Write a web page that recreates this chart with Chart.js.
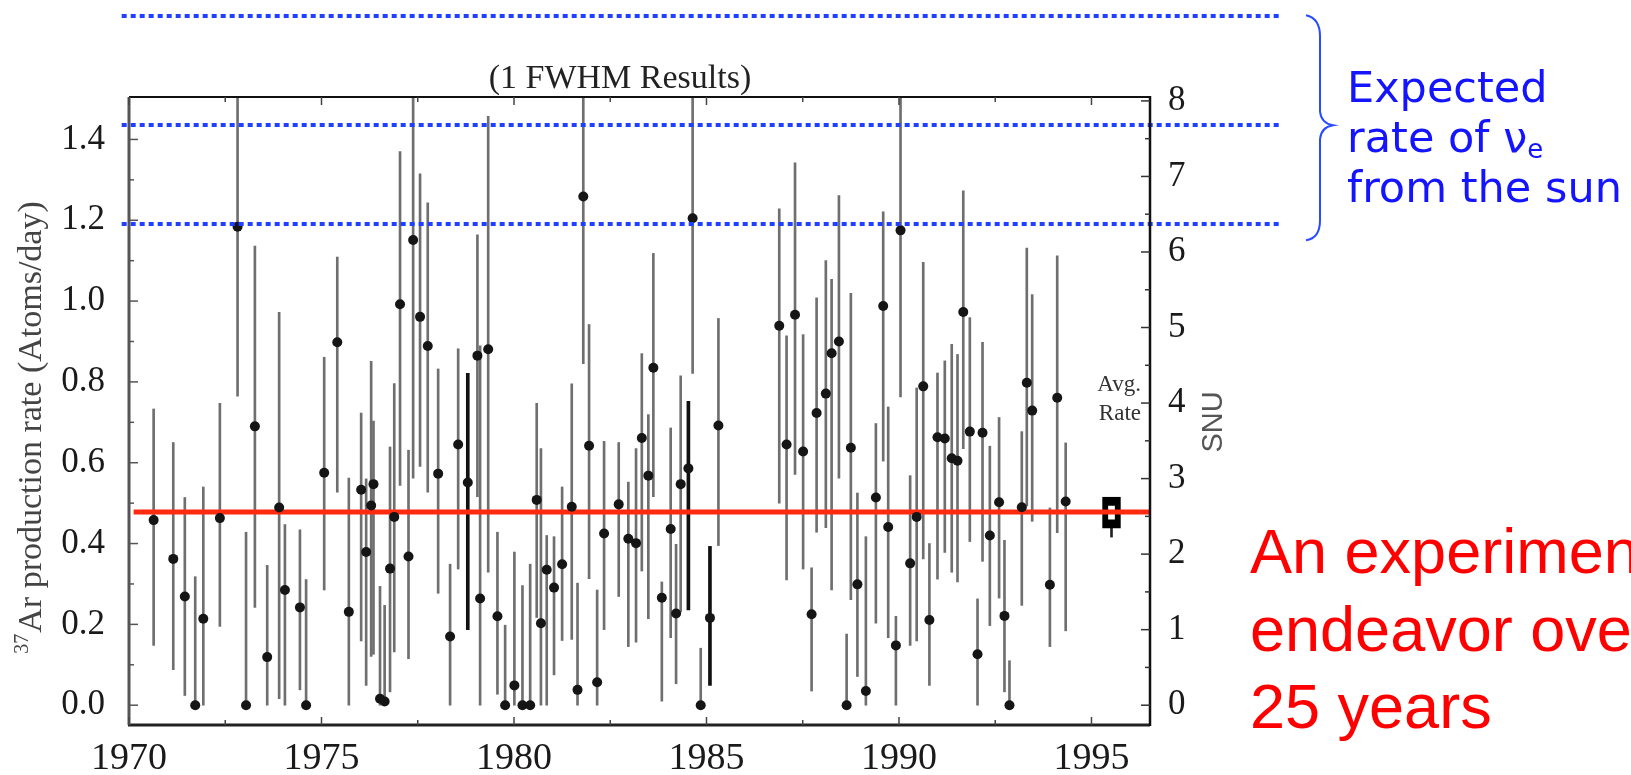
<!DOCTYPE html>
<html>
<head>
<meta charset="utf-8">
<title>Homestake 37Ar production rate</title>
<script src="https://cdn.jsdelivr.net/npm/chart.js@4.4.1/dist/chart.umd.min.js"></script>
<style>
    html, body { margin: 0; padding: 0; background: #fff; }
    #chart { display: block; }
</style>
</head>
<body>
<canvas id="chart" width="1631" height="775"></canvas>
<script>
/* ========= DATA ========= */
var runYears = [1970.64, 1971.15, 1971.45, 1971.72, 1971.93, 1972.36, 1972.82, 1973.04, 1973.27, 1973.59,
    1973.90, 1974.05, 1974.44, 1974.60, 1975.07, 1975.41, 1975.71, 1976.03, 1976.16, 1976.29,
    1976.35, 1976.52, 1976.64, 1976.78, 1976.89, 1977.04, 1977.26, 1977.38, 1977.56, 1977.76,
    1978.03, 1978.34, 1978.55, 1978.80, 1979.05, 1979.12, 1979.33, 1979.57, 1979.77, 1980.01,
    1980.22, 1980.42, 1980.59, 1980.70, 1980.85, 1981.04, 1981.25, 1981.50, 1981.65, 1981.80,
    1981.95, 1982.16, 1982.34, 1982.72, 1982.97, 1983.17, 1983.32, 1983.49, 1983.62, 1983.84,
    1984.07, 1984.21, 1984.33, 1984.53, 1984.64, 1984.85, 1985.09, 1985.31, 1986.89, 1987.08,
    1987.30, 1987.51, 1987.73, 1987.86, 1988.10, 1988.25, 1988.44, 1988.64, 1988.75, 1988.92,
    1989.14, 1989.40, 1989.59, 1989.72, 1989.92, 1990.04, 1990.29, 1990.46, 1990.63, 1990.79,
    1991.00, 1991.19, 1991.37, 1991.52, 1991.67, 1991.84, 1992.04, 1992.17, 1992.36, 1992.60,
    1992.74, 1992.87, 1993.19, 1993.32, 1993.46, 1993.92, 1994.11, 1994.33];
var runRates = [0.458, 0.362, 0.269, 0.000, 0.214, 0.463, 1.184, 0.000, 0.690, 0.119,
    0.489, 0.285, 0.242, 0.000, 0.575, 0.898, 0.231, 0.533, 0.379, 0.494,
    0.547, 0.016, 0.009, 0.338, 0.466, 0.992, 0.368, 1.151, 0.961, 0.889,
    0.573, 0.170, 0.645, 0.551, 0.865, 0.264, 0.881, 0.220, 0.000, 0.049,
    0.000, 0.000, 0.508, 0.203, 0.335, 0.291, 0.349, 0.491, 0.038, 1.259,
    0.642, 0.057, 0.425, 0.497, 0.412, 0.401, 0.661, 0.568, 0.835, 0.266,
    0.436, 0.227, 0.547, 0.586, 1.205, 0.000, 0.216, 0.692, 0.939, 0.645,
    0.966, 0.628, 0.225, 0.723, 0.771, 0.871, 0.900, 0.000, 0.637, 0.299,
    0.035, 0.514, 0.988, 0.441, 0.148, 1.175, 0.351, 0.466, 0.789, 0.211,
    0.663, 0.660, 0.611, 0.605, 0.973, 0.677, 0.126, 0.674, 0.420, 0.502,
    0.221, 0.000, 0.490, 0.798, 0.729, 0.298, 0.761, 0.504];
var runUpper = [0.733, 0.650, 0.514, 0.318, 0.540, 0.747, 1.600, 0.428, 1.136, 0.346,
    0.972, 0.447, 0.434, 0.311, 0.861, 1.109, 0.562, 0.723, 0.560, 0.851,
    0.703, 0.294, 0.247, 0.639, 0.796, 1.370, 0.631, 1.600, 1.315, 1.243,
    0.832, 0.349, 0.882, 0.821, 1.164, 0.889, 1.457, 0.428, 0.198, 0.379,
    0.296, 0.349, 0.747, 0.635, 0.420, 0.417, 0.540, 0.795, 0.302, 1.600,
    0.942, 0.285, 0.653, 0.650, 0.552, 0.635, 0.870, 0.719, 1.118, 0.305,
    0.686, 0.398, 0.815, 0.752, 1.600, 0.141, 0.393, 0.957, 1.228, 0.914,
    1.342, 0.917, 0.340, 1.008, 1.100, 1.054, 1.261, 0.176, 1.019, 0.525,
    0.417, 0.697, 1.221, 0.738, 0.220, 1.600, 0.568, 0.785, 1.096, 0.400,
    0.822, 0.852, 0.893, 0.868, 1.273, 0.959, 0.263, 0.898, 0.641, 0.712,
    0.408, 0.110, 0.677, 1.131, 1.016, 0.488, 1.112, 0.649];
var runLower = [0.148, 0.088, 0.024, 0.000, 0.000, 0.195, 0.765, 0.000, 0.242, 0.000,
    0.016, 0.000, 0.038, 0.000, 0.285, 0.527, 0.000, 0.159, 0.049, 0.121,
    0.126, 0.000, 0.000, 0.033, 0.132, 0.544, 0.115, 0.562, 0.591, 0.527,
    0.277, 0.000, 0.337, 0.187, 0.516, 0.000, 0.329, 0.027, 0.000, 0.000,
    0.000, 0.000, 0.217, 0.000, 0.000, 0.075, 0.160, 0.163, 0.000, 0.845,
    0.313, 0.000, 0.187, 0.269, 0.145, 0.156, 0.332, 0.214, 0.516, 0.010,
    0.167, 0.053, 0.231, 0.236, 0.821, 0.000, 0.049, 0.395, 0.500, 0.310,
    0.571, 0.337, 0.035, 0.428, 0.439, 0.285, 0.562, 0.000, 0.261, 0.071,
    0.000, 0.203, 0.604, 0.167, 0.000, 0.763, 0.148, 0.159, 0.362, 0.049,
    0.312, 0.378, 0.329, 0.305, 0.635, 0.405, 0.000, 0.356, 0.197, 0.265,
    0.033, 0.000, 0.247, 0.493, 0.455, 0.145, 0.427, 0.184];
var boldRuns = [1978.80, 1984.53, 1985.09];   // the darker, heavier error bars

var avgRate = 0.478;
var avgYear = 1995.52;
var avgBox = [0.438, 0.515];
var avgWhisker = [0.416, 0.438];

var expectedRates = [1.705, 1.435, 1.19];     // dotted blue lines
var expectedSpan = [1969.81, 1999.90];

var xTicks = [1970, 1975, 1980, 1985, 1990, 1995];
var yTicks = [0, 0.2, 0.4, 0.6, 0.8, 1.0, 1.2, 1.4];
var snuTicks = [0, 1, 2, 3, 4, 5, 6, 7, 8];

var SNU_PER_RATE = 5.35;
var X_MIN = 1970, X_MAX = 1996.52;
var Y_MIN = -0.049, Y_MAX = 1.505;

/* ========= BUILD DATASETS ========= */
var errBars = [], boldBars = [], points = [];
runYears.forEach(function (yr, i) {
    var bar = { x: yr, y: [runLower[i], runUpper[i]] };
    if (boldRuns.indexOf(yr) >= 0) boldBars.push(bar);
    else errBars.push(bar);
    points.push({ x: yr, y: runRates[i] });
});

var SERIF = '"Liberation Serif", "Times New Roman", serif';

function line(ctx, x1, y1, x2, y2, color, w) {
    ctx.beginPath();
    ctx.strokeStyle = color;
    ctx.lineWidth = w;
    ctx.moveTo(x1, y1);
    ctx.lineTo(x2, y2);
    ctx.stroke();
}

/* ========= DECORATION PLUGIN ========= */
var decor = {
    id: 'decor',
    afterDatasetsDraw: function (chart) {
        var ctx = chart.ctx, x = chart.scales.x, y = chart.scales.y;
        ctx.save();
        ctx.setLineDash([5, 4]);
        expectedRates.forEach(function (v) {
            var py = Math.round(y.getPixelForValue(v));
            line(ctx, x.getPixelForValue(expectedSpan[0]), py, x.getPixelForValue(expectedSpan[1]), py, '#2040ff', 4);
        });
        ctx.restore();
    },
    afterDraw: function (chart) {
        var ctx = chart.ctx, a = chart.chartArea;
        var x = chart.scales.x, y = chart.scales.y, y2 = chart.scales.y2;
        var i, px, py, len;
        ctx.save();

        // frame
        line(ctx, a.left, a.top, a.right, a.top, '#111', 2);
        line(ctx, a.left - 1, a.bottom, a.right, a.bottom, '#222', 3);
        line(ctx, a.left, a.top, a.left, a.bottom, '#555', 3);
        line(ctx, a.right, a.top - 1, a.right, a.bottom + 1, '#111', 2.5);

        // inward ticks
        for (i = 0; i * 2.5 + X_MIN <= X_MAX; i++) {
            px = x.getPixelForValue(X_MIN + i * 2.5);
            len = i % 2 === 0 ? 8 : 5;
            line(ctx, px, a.bottom, px, a.bottom - len, '#444', 1.5);
            line(ctx, px, a.top, px, a.top + len, '#444', 1.5);
        }
        for (i = 0; i <= 14; i++) {
            py = y.getPixelForValue(i / 10);
            len = i % 2 === 0 ? 9 : 5;
            line(ctx, a.left, py, a.left + len, py, '#555', 1.5);
        }
        for (i = 0; i <= 16; i++) {
            py = y2.getPixelForValue(i / 2);
            len = i % 2 === 0 ? 9 : 5;
            line(ctx, a.right, py, a.right - len, py, '#333', 1.5);
        }

        // title
        ctx.fillStyle = '#222';
        ctx.textAlign = 'center';
        ctx.textBaseline = 'alphabetic';
        ctx.font = '34px ' + SERIF;
        ctx.fillText('(1 FWHM Results)', 620, 88);

        // left axis title with superscript
        ctx.save();
        ctx.translate(29, 428);
        ctx.rotate(-Math.PI / 2);
        ctx.fillStyle = '#444';
        ctx.textAlign = 'left';
        ctx.font = '20px ' + SERIF;
        var supW = ctx.measureText('37').width;
        ctx.font = '34px ' + SERIF;
        var mainTxt = 'Ar production rate (Atoms/day)';
        var mainW = ctx.measureText(mainTxt).width;
        var start = -(supW + mainW) / 2;
        ctx.font = '20px ' + SERIF;
        ctx.fillText('37', start, -1);
        ctx.font = '34px ' + SERIF;
        ctx.fillText(mainTxt, start + supW + 1, 12);
        ctx.restore();

        // SNU title
        ctx.save();
        ctx.translate(1214, 422);
        ctx.rotate(-Math.PI / 2);
        ctx.fillStyle = '#555';
        ctx.textAlign = 'center';
        ctx.textBaseline = 'middle';
        ctx.font = '29px "Liberation Sans", Arial, sans-serif';
        ctx.fillText('SNU', 0, 0);
        ctx.restore();

        // Avg. Rate
        ctx.fillStyle = '#333';
        ctx.textAlign = 'right';
        ctx.font = '23px ' + SERIF;
        ctx.fillText('Avg.', 1141, 391);
        ctx.fillText('Rate', 1141, 420);

        // brace
        var yTop = y.getPixelForValue(expectedRates[0]);
        var yMid = y.getPixelForValue(expectedRates[1]);
        var yBot = y.getPixelForValue(expectedRates[2]) + 16;
        ctx.beginPath();
        ctx.strokeStyle = '#2a4cff';
        ctx.lineWidth = 2;
        ctx.moveTo(1306, yTop - 1);
        ctx.quadraticCurveTo(1320, yTop + 2, 1320, yTop + 20);
        ctx.lineTo(1320, yMid - 14);
        ctx.quadraticCurveTo(1321, yMid - 2, 1333, yMid);
        ctx.quadraticCurveTo(1321, yMid + 2, 1320, yMid + 14);
        ctx.lineTo(1320, yBot - 20);
        ctx.quadraticCurveTo(1320, yBot - 2, 1306, yBot);
        ctx.stroke();

        // blue note
        ctx.fillStyle = '#1414ff';
        ctx.textAlign = 'left';
        ctx.font = '43px "DejaVu Sans", sans-serif';
        ctx.fillText('Expected', 1347, 102);
        ctx.fillText('rate of \u03bd', 1347, 152);
        var w = ctx.measureText('rate of \u03bd').width;
        ctx.font = '26px "DejaVu Sans", sans-serif';
        ctx.fillText('e', 1347 + w, 158);
        ctx.font = '43px "DejaVu Sans", sans-serif';
        ctx.fillText('from the sun', 1347, 202);

        // red note
        ctx.fillStyle = '#ff0000';
        ctx.font = '63px "Liberation Sans", Arial, sans-serif';
        ctx.fillText('An experimental', 1250, 573);
        ctx.fillText('endeavor over', 1250, 651);
        ctx.fillText('25 years', 1250, 728);

        ctx.restore();
    }
};

/* ========= CHART ========= */
var canvas = document.getElementById('chart');

new Chart(canvas, {
    type: 'scatter',
    data: {
        datasets: [
            {
                type: 'bar', label: 'error', data: errBars,
                backgroundColor: '#6f6f6f', barThickness: 2, grouped: false, order: 4
            },
            {
                type: 'bar', label: 'error (bold)', data: boldBars,
                backgroundColor: '#111', barThickness: 3, grouped: false, order: 4
            },
            {
                type: 'bar', label: 'avg whisker',
                data: [{ x: avgYear, y: avgWhisker }],
                backgroundColor: '#222', barThickness: 2, grouped: false, order: 3
            },
            {
                type: 'bar', label: 'avg box',
                data: [{ x: avgYear, y: avgBox }],
                backgroundColor: '#fff', borderColor: '#000',
                borderWidth: { top: 9, bottom: 9, left: 6, right: 6 },
                borderSkipped: false, barThickness: 18, grouped: false, order: 2
            },
            {
                type: 'line', label: 'average',
                data: [{ x: X_MIN + 0.12, y: avgRate }, { x: X_MAX + 0.05, y: avgRate }],
                borderColor: '#ff2a10', borderWidth: 5, pointRadius: 0, order: 1
            },
            {
                type: 'scatter', label: 'runs', data: points,
                backgroundColor: '#151515', borderWidth: 0, pointRadius: 5, order: 0
            }
        ]
    },
    options: {
        responsive: false,
        maintainAspectRatio: false,
        animation: false,
        events: [],
        layout: { padding: { top: 97, left: 0, right: 0, bottom: 0 } },
        plugins: {
            legend: { display: false },
            tooltip: { enabled: false },
            title: { display: false }
        },
        scales: {
            x: {
                type: 'linear', position: 'bottom', min: X_MIN, max: X_MAX, offset: false,
                grid: { display: false }, border: { display: false },
                afterBuildTicks: function (s) { s.ticks = xTicks.map(function (v) { return { value: v }; }); },
                afterFit: function (s) { s.height = 50; },
                ticks: {
                    autoSkip: false, maxRotation: 0, padding: 3, color: '#1a1a1a',
                    font: { family: SERIF, size: 38 },
                    callback: function (v) { return String(v); }
                }
            },
            y: {
                type: 'linear', position: 'left', min: Y_MIN, max: Y_MAX,
                grid: { display: false }, border: { display: false },
                afterBuildTicks: function (s) { s.ticks = yTicks.map(function (v) { return { value: v }; }); },
                afterFit: function (s) { s.width = 129; },
                ticks: {
                    autoSkip: false, padding: 16, color: '#1a1a1a',
                    font: { family: SERIF, size: 35 },
                    callback: function (v) { return v.toFixed(1); }
                }
            },
            y2: {
                type: 'linear', position: 'right',
                min: Y_MIN * SNU_PER_RATE, max: Y_MAX * SNU_PER_RATE,
                grid: { display: false }, border: { display: false },
                afterBuildTicks: function (s) { s.ticks = snuTicks.map(function (v) { return { value: v }; }); },
                afterFit: function (s) { s.width = 481; },
                ticks: {
                    autoSkip: false, padding: 10, color: '#1a1a1a',
                    font: { family: SERIF, size: 35 },
                    callback: function (v) { return String(v); }
                }
            }
        }
    },
    plugins: [decor]
});
</script>
</body>
</html>
